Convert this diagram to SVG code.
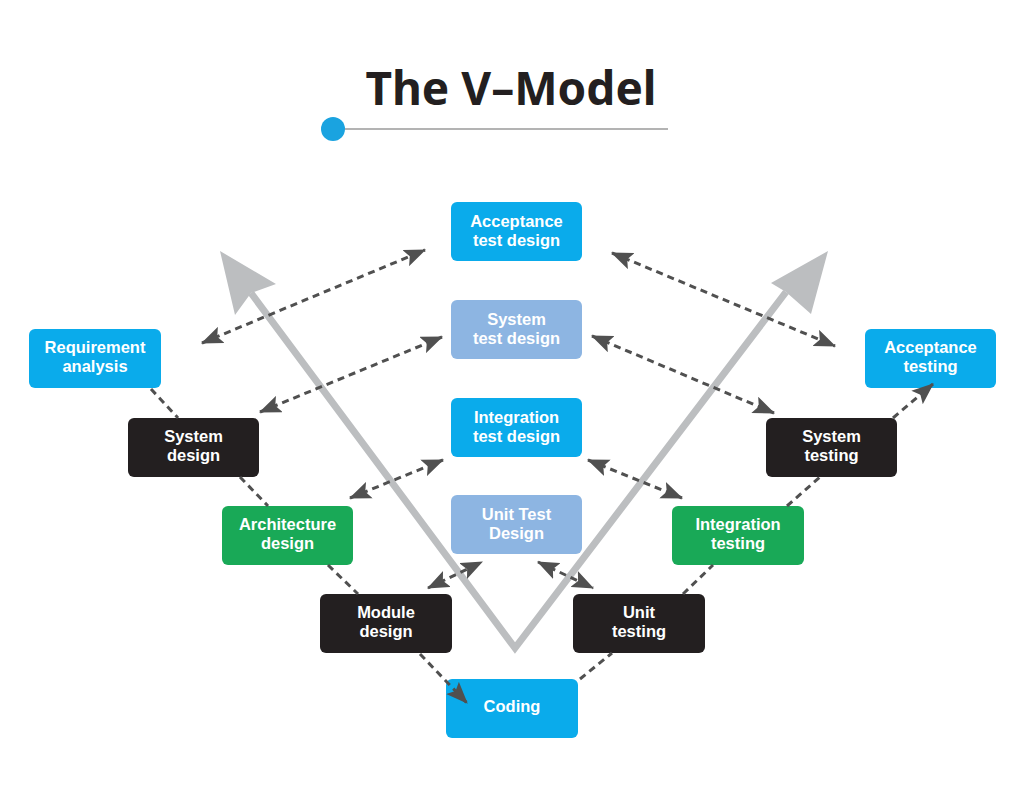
<svg xmlns="http://www.w3.org/2000/svg" width="1024" height="805" viewBox="0 0 1024 805">
<defs>
<style>
.box{stroke:none}
.blue{fill:#0aabeb}
.lblue{fill:#8db5e2}
.black{fill:#231f20}
.green{fill:#19a957}
.lbl{font-family:"Liberation Sans",Arial,sans-serif;font-weight:700;font-size:16.5px;fill:#ffffff;text-anchor:middle}
.dash{stroke:#505050;stroke-width:3;stroke-dasharray:7 5;fill:none}
.v{stroke:#bcbec0;stroke-width:7;fill:none;stroke-linejoin:miter}
</style>
<marker id="ah" markerUnits="userSpaceOnUse" markerWidth="22" markerHeight="18" refX="19" refY="8" orient="auto-start-reverse" viewBox="0 0 20 16">
<path d="M0,0 L20,8 L0,16 L4,8 z" fill="#505050"/>
</marker>
</defs>
<rect width="1024" height="805" fill="#ffffff"/>
<g id="title">
<text x="511" y="105" font-family="'Noto Sans','Liberation Sans',sans-serif" font-weight="700" font-size="46" fill="#231f20" text-anchor="middle">The V–Model</text>
<line x1="340" y1="129" x2="668" y2="129" stroke="#9a9a9a" stroke-width="1.5"/>
<circle cx="333" cy="129" r="12" fill="#1aa3e0"/>
</g>
<g id="v-arrows">
<polyline class="v" points="251,293 515,648 786,292"/>
<polygon points="220,251 276,284 251,293 235,315" fill="#bcbec0"/>
<polygon points="828,251 811,314 786,292 771,283" fill="#bcbec0"/>
</g>
<g id="acceptance-test-design"><rect class="box blue" x="451" y="202" width="131" height="59" rx="6"/><text class="lbl" x="516.5" y="227">Acceptance</text><text class="lbl" x="516.5" y="246">test design</text></g>
<g id="system-test-design"><rect class="box lblue" x="451" y="300" width="131" height="59" rx="6"/><text class="lbl" x="516.5" y="325">System</text><text class="lbl" x="516.5" y="344">test design</text></g>
<g id="integration-test-design"><rect class="box blue" x="451" y="398" width="131" height="59" rx="6"/><text class="lbl" x="516.5" y="423">Integration</text><text class="lbl" x="516.5" y="442">test design</text></g>
<g id="unit-test-design"><rect class="box lblue" x="451" y="495" width="131" height="59" rx="6"/><text class="lbl" x="516.5" y="520">Unit Test</text><text class="lbl" x="516.5" y="539">Design</text></g>
<g id="requirement-analysis"><rect class="box blue" x="29" y="329" width="132" height="59" rx="6"/><text class="lbl" x="95" y="353">Requirement</text><text class="lbl" x="95" y="372">analysis</text></g>
<g id="system-design"><rect class="box black" x="128" y="418" width="131" height="59" rx="6"/><text class="lbl" x="193.5" y="442">System</text><text class="lbl" x="193.5" y="461">design</text></g>
<g id="architecture-design"><rect class="box green" x="222" y="506" width="131" height="59" rx="6"/><text class="lbl" x="287.5" y="530">Architecture</text><text class="lbl" x="287.5" y="549">design</text></g>
<g id="module-design"><rect class="box black" x="320" y="594" width="132" height="59" rx="6"/><text class="lbl" x="386" y="618">Module</text><text class="lbl" x="386" y="637">design</text></g>
<g id="coding"><rect class="box blue" x="446" y="679" width="132" height="59" rx="6"/><text class="lbl" x="512" y="712">Coding</text></g>
<g id="unit-testing"><rect class="box black" x="573" y="594" width="132" height="59" rx="6"/><text class="lbl" x="639" y="618">Unit</text><text class="lbl" x="639" y="637">testing</text></g>
<g id="integration-testing"><rect class="box green" x="672" y="506" width="132" height="59" rx="6"/><text class="lbl" x="738" y="530">Integration</text><text class="lbl" x="738" y="549">testing</text></g>
<g id="system-testing"><rect class="box black" x="766" y="418" width="131" height="59" rx="6"/><text class="lbl" x="831.5" y="442">System</text><text class="lbl" x="831.5" y="461">testing</text></g>
<g id="acceptance-testing"><rect class="box blue" x="865" y="329" width="131" height="59" rx="6"/><text class="lbl" x="930.5" y="353">Acceptance</text><text class="lbl" x="930.5" y="372">testing</text></g>
<g id="connectors">
<line class="dash" x1="202" y1="343" x2="425" y2="250" marker-start="url(#ah)" marker-end="url(#ah)"/>
<line class="dash" x1="612" y1="253" x2="835" y2="346" marker-start="url(#ah)" marker-end="url(#ah)"/>
<line class="dash" x1="260" y1="412" x2="442" y2="337" marker-start="url(#ah)" marker-end="url(#ah)"/>
<line class="dash" x1="592" y1="336" x2="774" y2="413" marker-start="url(#ah)" marker-end="url(#ah)"/>
<line class="dash" x1="350" y1="498" x2="443" y2="460" marker-start="url(#ah)" marker-end="url(#ah)"/>
<line class="dash" x1="588" y1="460" x2="682" y2="498" marker-start="url(#ah)" marker-end="url(#ah)"/>
<line class="dash" x1="428" y1="588" x2="482" y2="562" marker-start="url(#ah)" marker-end="url(#ah)"/>
<line class="dash" x1="538" y1="562" x2="593" y2="588" marker-start="url(#ah)" marker-end="url(#ah)"/>
<line class="dash" x1="151" y1="389" x2="178" y2="418"/>
<line class="dash" x1="240" y1="477" x2="268" y2="506"/>
<line class="dash" x1="328" y1="565" x2="358" y2="594"/>
<line class="dash" x1="420" y1="654" x2="467" y2="703" marker-end="url(#ah)"/>
<line class="dash" x1="580" y1="679" x2="612" y2="653"/>
<line class="dash" x1="683" y1="594" x2="713" y2="565"/>
<line class="dash" x1="787" y1="506" x2="820" y2="477"/>
<line class="dash" x1="893" y1="418" x2="933" y2="384" marker-end="url(#ah)"/>
</g>
</svg>
